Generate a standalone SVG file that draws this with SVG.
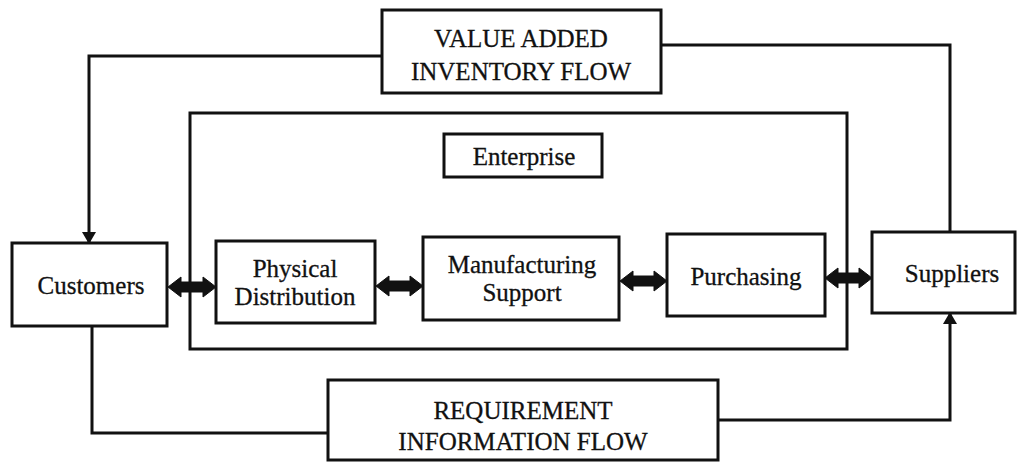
<svg xmlns="http://www.w3.org/2000/svg" width="1019" height="465" viewBox="0 0 1019 465">
<defs>
<style>
.box{fill:#fff;stroke:#111;stroke-width:3}
.frame{fill:none;stroke:#111;stroke-width:3}
.line{fill:none;stroke:#111;stroke-width:3}
.dbl{fill:#111;stroke:#111;stroke-width:1}
text{font-family:"Liberation Serif","Times New Roman",serif;fill:#111;stroke:#111;stroke-width:0.3;text-anchor:middle}
.t{font-size:25px}
.c{font-size:25px}
</style>
<marker id="ah" viewBox="0 0 12 14" refX="11" refY="7" markerWidth="12" markerHeight="14" markerUnits="userSpaceOnUse" orient="auto">
<path d="M0,0 L12,7 L0,14 z" fill="#111"/>
</marker>
</defs>
<rect width="1019" height="465" fill="#fff"/>
<g id="enterprise-frame">
<rect class="frame" x="190" y="113" width="657" height="236"/>
</g>
<g id="connectors">
<polyline class="line" points="382,56 89,56 89,243" marker-end="url(#ah)"/>
<polyline class="line" points="661,45 950,45 950,232"/>
<polyline class="line" points="92,326 92,433 328,433"/>
<polyline class="line" points="718,420 950,420 950,313" marker-end="url(#ah)"/>
<polygon class="dbl" points="168,287 181,277 181,282 203,282 203,277 216,287 203,297 203,292 181,292 181,297"/>
<polygon class="dbl" points="376,286 389,276 389,281 410,281 410,276 423,286 410,296 410,291 389,291 389,296"/>
<polygon class="dbl" points="620,281 633,271 633,276 654,276 654,271 667,281 654,291 654,286 633,286 633,291"/>
<polygon class="dbl" points="825,278 838,268 838,273 859,273 859,268 872,278 859,288 859,283 838,283 838,288"/>
</g>
<g id="value-added">
<rect class="box" x="382" y="10" width="279" height="83"/>
<text class="t" x="521" y="47">VALUE ADDED</text>
<text class="t" x="521" y="80">INVENTORY FLOW</text>
</g>
<g id="enterprise-label">
<rect class="box" x="444" y="134" width="158" height="43"/>
<text class="c" x="524" y="165">Enterprise</text>
</g>
<g id="customers">
<rect class="box" x="12" y="243" width="155" height="83"/>
<text class="c" x="91" y="294">Customers</text>
</g>
<g id="physical-distribution">
<rect class="box" x="216" y="241" width="159" height="82"/>
<text class="c" x="295" y="277">Physical</text>
<text class="c" x="295" y="305">Distribution</text>
</g>
<g id="manufacturing-support">
<rect class="box" x="423" y="237" width="196" height="83"/>
<text class="c" x="522" y="273">Manufacturing</text>
<text class="c" x="522" y="301">Support</text>
</g>
<g id="purchasing">
<rect class="box" x="667" y="234" width="158" height="82"/>
<text class="c" x="746" y="285">Purchasing</text>
</g>
<g id="suppliers">
<rect class="box" x="872" y="232" width="143" height="81"/>
<text class="c" x="952" y="282">Suppliers</text>
</g>
<g id="requirement">
<rect class="box" x="328" y="380" width="390" height="80"/>
<text class="t" x="523" y="419">REQUIREMENT</text>
<text class="t" x="523" y="450">INFORMATION FLOW</text>
</g>
</svg>
